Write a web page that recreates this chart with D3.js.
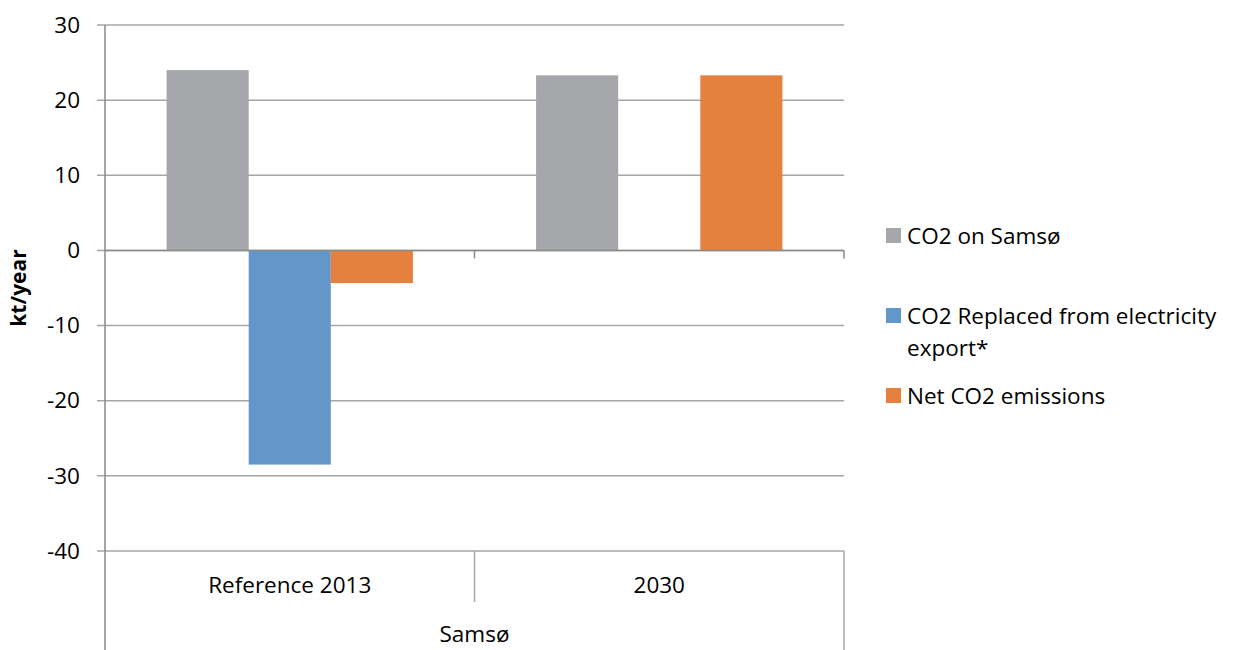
<!DOCTYPE html>
<html>
<head>
<meta charset="utf-8">
<script src="https://cdn.jsdelivr.net/npm/d3@7"></script>
<style>
  body { margin: 0; background: #fff; }
  text { font-family: "Open Sans", sans-serif; fill: #000; }
</style>
</head>
<body>
<svg id="canvas"></svg>
<script>
const categories = ['Reference 2013', '2030'];
const groupLabel = 'Samsø';
const seriesNames = ['CO2 on Samsø', 'CO2 Replaced from electricity export*', 'Net CO2 emissions'];
const seriesColors = ['#A6A7AA', '#6397CA', '#E6803F'];
const co2OnSamso = [24.0, 23.3];
const co2Replaced = [-28.5, null];
const netCo2 = [-4.35, 23.3];
const yTicks = [-40, -30, -20, -10, 0, 10, 20, 30];

const width = 1233;
const height = 650;
const margin = { top: 25, right: 389, bottom: 99, left: 105 };
const fontSize = '22.5px';

const svg = d3.select('#canvas').attr('width', width).attr('height', height);

const series = [co2OnSamso, co2Replaced, netCo2];
const data = categories.map((c, i) => ({
  cat: c,
  values: series.map((s, j) => ({ key: j, value: s[i] }))
}));

const x0 = d3.scaleBand()
  .domain(categories)
  .range([margin.left, width - margin.right]);

const gap = x0.bandwidth() / 6;
const x1 = d3.scaleBand()
  .domain([0, 1, 2])
  .range([gap, x0.bandwidth() - gap]);

const y = d3.scaleLinear()
  .domain([-40, 30])
  .range([height - margin.bottom, margin.top]);

// gridlines
svg.append('g')
  .selectAll('line')
  .data(yTicks)
  .enter()
  .append('line')
  .attr('x1', margin.left - 8)
  .attr('x2', width - margin.right)
  .attr('y1', d => y(d))
  .attr('y2', d => y(d))
  .attr('stroke', '#A6A6A6')
  .attr('stroke-width', 1.5);

// y axis labels (plain hyphen for negatives, like the original)
const yAxis = svg.append('g')
  .attr('transform', `translate(${margin.left},0)`)
  .call(d3.axisLeft(y).tickValues(yTicks).tickFormat(d => String(d)).tickSize(0).tickPadding(25));
yAxis.select('.domain').remove();
yAxis.selectAll('text')
  .style('font-family', '"Open Sans", sans-serif')
  .style('font-size', fontSize)
  .attr('fill', '#000');

// bars
svg.append('g')
  .selectAll('g')
  .data(data)
  .enter()
  .append('g')
  .attr('transform', d => `translate(${x0(d.cat)},0)`)
  .selectAll('rect')
  .data(d => d.values.filter(v => v.value != null))
  .enter()
  .append('rect')
  .attr('x', d => x1(d.key))
  .attr('width', x1.bandwidth())
  .attr('y', d => y(Math.max(0, d.value)))
  .attr('height', d => Math.abs(y(d.value) - y(0)))
  .attr('fill', d => seriesColors[d.key]);

const axisColor = '#898989';
const plotBottom = height - margin.bottom;
const xRight = width - margin.right;

// horizontal axis at zero
svg.append('line')
  .attr('x1', margin.left).attr('x2', xRight)
  .attr('y1', y(0)).attr('y2', y(0))
  .attr('stroke', axisColor).attr('stroke-width', 1.5);

const zeroTicks = categories.map(c => x0(c) + x0.bandwidth());
svg.append('g')
  .selectAll('line')
  .data(zeroTicks)
  .enter()
  .append('line')
  .attr('x1', d => d).attr('x2', d => d)
  .attr('y1', y(0)).attr('y2', y(0) + 8)
  .attr('stroke', axisColor).attr('stroke-width', 1.5);

// vertical axis line, running down through the category box
svg.append('line')
  .attr('x1', margin.left).attr('x2', margin.left)
  .attr('y1', margin.top).attr('y2', height)
  .attr('stroke', axisColor).attr('stroke-width', 1.5);

// category box lines
svg.append('line')
  .attr('x1', xRight).attr('x2', xRight)
  .attr('y1', plotBottom).attr('y2', height)
  .attr('stroke', '#A6A6A6').attr('stroke-width', 1.5);

svg.append('g')
  .selectAll('line')
  .data(categories.slice(0, -1))
  .enter()
  .append('line')
  .attr('x1', d => x0(d) + x0.bandwidth()).attr('x2', d => x0(d) + x0.bandwidth())
  .attr('y1', plotBottom).attr('y2', plotBottom + 51)
  .attr('stroke', '#A6A6A6').attr('stroke-width', 1.5);

// category labels
svg.append('g')
  .selectAll('text')
  .data(categories)
  .enter()
  .append('text')
  .attr('x', d => x0(d) + x0.bandwidth() / 2)
  .attr('y', plotBottom + 42)
  .attr('text-anchor', 'middle')
  .style('font-size', fontSize)
  .text(d => d);

svg.append('text')
  .attr('x', (margin.left + xRight) / 2)
  .attr('y', plotBottom + 91)
  .attr('text-anchor', 'middle')
  .style('font-size', fontSize)
  .text(groupLabel);

// y axis title
svg.append('text')
  .attr('transform', `translate(26,${(margin.top + plotBottom) / 2}) rotate(-90)`)
  .attr('text-anchor', 'middle')
  .style('font-size', '21px')
  .style('font-weight', 'bold')
  .text('kt/year');

// legend
const legendRows = [
  { y: 236, lines: ['CO2 on Samsø'] },
  { y: 316, lines: ['CO2 Replaced from electricity', 'export*'] },
  { y: 396, lines: ['Net CO2 emissions'] }
];
const legend = svg.append('g');
legendRows.forEach((r, i) => {
  legend.append('rect')
    .attr('x', 886).attr('y', r.y - 8)
    .attr('width', 15).attr('height', 15)
    .attr('fill', seriesColors[i]);
  const t = legend.append('text')
    .attr('x', 907)
    .attr('y', r.y + 8)
    .style('font-size', fontSize);
  r.lines.forEach((ln, k) => {
    t.append('tspan').attr('x', 907).attr('dy', k === 0 ? 0 : 32).text(ln);
  });
});
</script>
</body>
</html>
